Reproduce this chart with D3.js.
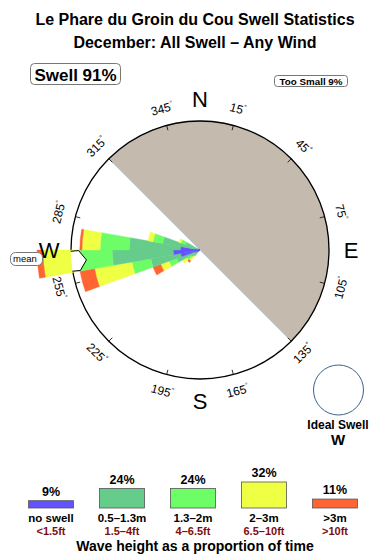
<!DOCTYPE html>
<html>
<head>
<meta charset="utf-8">
<script src="https://cdn.jsdelivr.net/npm/d3@7"></script>
<style>
body { margin: 0; background: #fff; }
svg { display: block; font-family: "Liberation Sans", Arial, sans-serif; }
</style>
</head>
<body>
<svg width="390" height="560"></svg>
<script>
// swell rose: percent of time per 10 degree sector, split by wave height
const directions = [225, 235, 245, 255, 265, 275, 285, 295];
const noSwell    = [0.2, 0.4, 0.9, 3.6, 4.9, 3.6, 0.9, 0.4];
const h05to13    = [1.3, 1.5, 3.6, 5.5, 11.1, 9.3, 6.0, 2.4];
const h13to2     = [0.0, 0.9, 1.5, 3.5, 6.4, 5.3, 1.8, 0.9];
const h2to3      = [1.1, 0.9, 1.6, 6.9, 6.2, 3.3, 0.9, 0.4];
const hOver3     = [0.4, 0.0, 1.5, 2.7, 1.1, 0.4, 0.0, 0.0];

// legend
const bandNames = ['no swell', '0.5–1.3m', '1.3–2m', '2–3m', '>3m'];
const bandFeet  = ['<1.5ft', '1.5–4ft', '4–6.5ft', '6.5–10ft', '>10ft'];
const bandPct   = [9, 24, 24, 32, 11];
const bandColors = ['#6352ff', '#66cc8c', '#6dfd66', '#eeff44', '#ff6533'];

const tickAngles = [15, 45, 75, 105, 135, 165, 195, 225, 255, 285, 315, 345];
const compass = [{t: 'N', a: 0}, {t: 'E', a: 90}, {t: 'S', a: 180}, {t: 'W', a: 270}];

const swellPct = 91, tooSmallPct = 9;
const meanDir = 265;
const idealDir = 'W';
const offshore = [315, 135];   // shaded sector, clockwise through N

const cx = 200, cy = 250, R = 129;
const rad = d => d * Math.PI / 180;

const svg = d3.select('svg');

// titles
svg.append('text').attr('x', 195).attr('y', 25).attr('text-anchor', 'middle')
    .attr('font-size', 16).attr('font-weight', 'bold')
    .text('Le Phare du Groin du Cou Swell Statistics');
svg.append('text').attr('x', 195).attr('y', 48).attr('text-anchor', 'middle')
    .attr('font-size', 16).attr('font-weight', 'bold')
    .text('December: All Swell – Any Wind');

// swell / too small boxes
svg.append('rect').attr('x', 30.5).attr('y', 63.5).attr('width', 90).attr('height', 21)
    .attr('rx', 4).attr('fill', '#fff').attr('stroke', '#777');
svg.append('text').attr('x', 75.5).attr('y', 80.5).attr('text-anchor', 'middle')
    .attr('font-size', 17).attr('font-weight', 'bold').text('Swell ' + swellPct + '%');
svg.append('rect').attr('x', 274.5).attr('y', 75.5).attr('width', 73).attr('height', 11)
    .attr('rx', 3).attr('fill', '#fff').attr('stroke', '#777');
svg.append('text').attr('x', 311).attr('y', 84.5).attr('text-anchor', 'middle')
    .attr('font-size', 9.8).attr('font-weight', 'bold').text('Too Small ' + tooSmallPct + '%');

const rose = svg.append('g').attr('transform', 'translate(' + cx + ',' + cy + ')');

// shaded sector
rose.append('path')
    .attr('d', d3.arc()({innerRadius: 0, outerRadius: R,
        startAngle: rad(offshore[0] - 360), endAngle: rad(offshore[1])}))
    .attr('fill', '#c4baae').attr('stroke', '#b9c4cf').attr('stroke-width', 0.8);

// mean label box
svg.append('rect').attr('x', 10.5).attr('y', 252.5).attr('width', 32).attr('height', 13)
    .attr('rx', 5).attr('fill', '#fff').attr('stroke', '#777');
svg.append('text').attr('x', 25).attr('y', 262).attr('text-anchor', 'middle')
    .attr('font-size', 9.5).text('mean');

// circle and ticks
rose.append('circle').attr('r', R).attr('fill', 'none').attr('stroke', '#000').attr('stroke-width', 1.3);
rose.selectAll('.tick').data(tickAngles).enter().append('line')
    .attr('x1', a => Math.sin(rad(a)) * (R - 5)).attr('y1', a => -Math.cos(rad(a)) * (R - 5))
    .attr('x2', a => Math.sin(rad(a)) * R).attr('y2', a => -Math.cos(rad(a)) * R)
    .attr('stroke', '#000').attr('stroke-width', 0.8);

const lbl = rose.selectAll('.tlabel').data(tickAngles).enter().append('text')
    .attr('text-anchor', 'middle').attr('dominant-baseline', 'central')
    .attr('font-size', 12)
    .attr('transform', a => {
        const x = Math.sin(rad(a)) * 146, y = -Math.cos(rad(a)) * 146;
        const rot = ((a + 90) % 180) - 90;
        return 'translate(' + x + ',' + y + ') rotate(' + rot + ')';
    });
lbl.append('tspan').text(a => a);
lbl.append('tspan').attr('font-size', 7).attr('dy', -4).text('°');

// rose wedges
const rScale = d3.scaleLinear().domain([0, 23.5]).range([0, R]);
const series = [noSwell, h05to13, h13to2, h2to3, hOver3];
const arc = d3.arc();
const wedges = [];
directions.forEach((dir, i) => {
    let cum = 0;
    series.forEach((s, j) => {
        if (s[i] <= 0) return;
        wedges.push({dir: dir, band: j, r0: cum, r1: cum + s[i]});
        cum += s[i];
    });
});
rose.selectAll('.wedge').data(wedges).enter().append('path')
    .attr('d', d => arc({innerRadius: rScale(d.r0), outerRadius: rScale(d.r1),
        startAngle: rad(d.dir - 5), endAngle: rad(d.dir + 5)}))
    .attr('fill', d => bandColors[d.band])
    .attr('stroke', d => bandColors[d.band]).attr('stroke-width', 0.4);

// mean direction arrow
const u = [Math.sin(rad(meanDir)), -Math.cos(rad(meanDir))];
const v = [-u[1], u[0]];
const pt = (r, w) => [u[0] * r + v[0] * w, u[1] * r + v[1] * w];
rose.append('path')
    .attr('d', d3.line()([pt(129, -10), pt(121, -10), pt(114, 0), pt(121, 10), pt(129, 10)]))
    .attr('fill', '#fff').attr('stroke', '#000').attr('stroke-width', 1);

// compass letters
rose.selectAll('.cmp').data(compass).enter().append('text')
    .attr('x', d => Math.sin(rad(d.a)) * 151)
    .attr('y', d => -Math.cos(rad(d.a)) * 151)
    .attr('text-anchor', 'middle').attr('dominant-baseline', 'central')
    .attr('font-size', 22).text(d => d.t);

// ideal swell
svg.append('circle').attr('cx', 338.5).attr('cy', 390).attr('r', 25)
    .attr('fill', '#fff').attr('stroke', '#3d6289').attr('stroke-width', 1);
svg.append('text').attr('x', 338).attr('y', 429).attr('text-anchor', 'middle')
    .attr('font-size', 12).attr('font-weight', 'bold').text('Ideal Swell');
svg.append('text').attr('x', 338).attr('y', 445).attr('text-anchor', 'middle')
    .attr('font-size', 15).attr('font-weight', 'bold').text(idealDir);

// legend
const lx = d3.scalePoint().domain(bandNames).range([51, 335]);
const lh = d3.scaleLinear().domain([0, 32]).range([0, 26]);
const leg = svg.append('g');
leg.selectAll('.bar').data(bandNames).enter().append('rect')
    .attr('x', d => lx(d) - 22.5).attr('width', 45)
    .attr('y', (d, i) => 508 - lh(bandPct[i])).attr('height', (d, i) => lh(bandPct[i]))
    .attr('fill', (d, i) => bandColors[i]).attr('stroke', '#555').attr('stroke-width', 0.8);
leg.selectAll('.pct').data(bandNames).enter().append('text')
    .attr('x', d => lx(d)).attr('y', (d, i) => 503 - lh(bandPct[i]))
    .attr('text-anchor', 'middle').attr('font-size', 12.5).attr('font-weight', 'bold')
    .text((d, i) => bandPct[i] + '%');
leg.selectAll('.name').data(bandNames).enter().append('text')
    .attr('x', d => lx(d)).attr('y', 522)
    .attr('text-anchor', 'middle').attr('font-size', 11.5).attr('font-weight', 'bold')
    .text(d => d);
leg.selectAll('.feet').data(bandFeet).enter().append('text')
    .attr('x', (d, i) => lx(bandNames[i])).attr('y', 534.5)
    .attr('text-anchor', 'middle').attr('font-size', 11).attr('font-weight', 'bold')
    .attr('fill', '#7d0d0d').text(d => d);
svg.append('text').attr('x', 195).attr('y', 551).attr('text-anchor', 'middle')
    .attr('font-size', 14).attr('font-weight', 'bold')
    .text('Wave height as a proportion of time');
</script>
</body>
</html>
